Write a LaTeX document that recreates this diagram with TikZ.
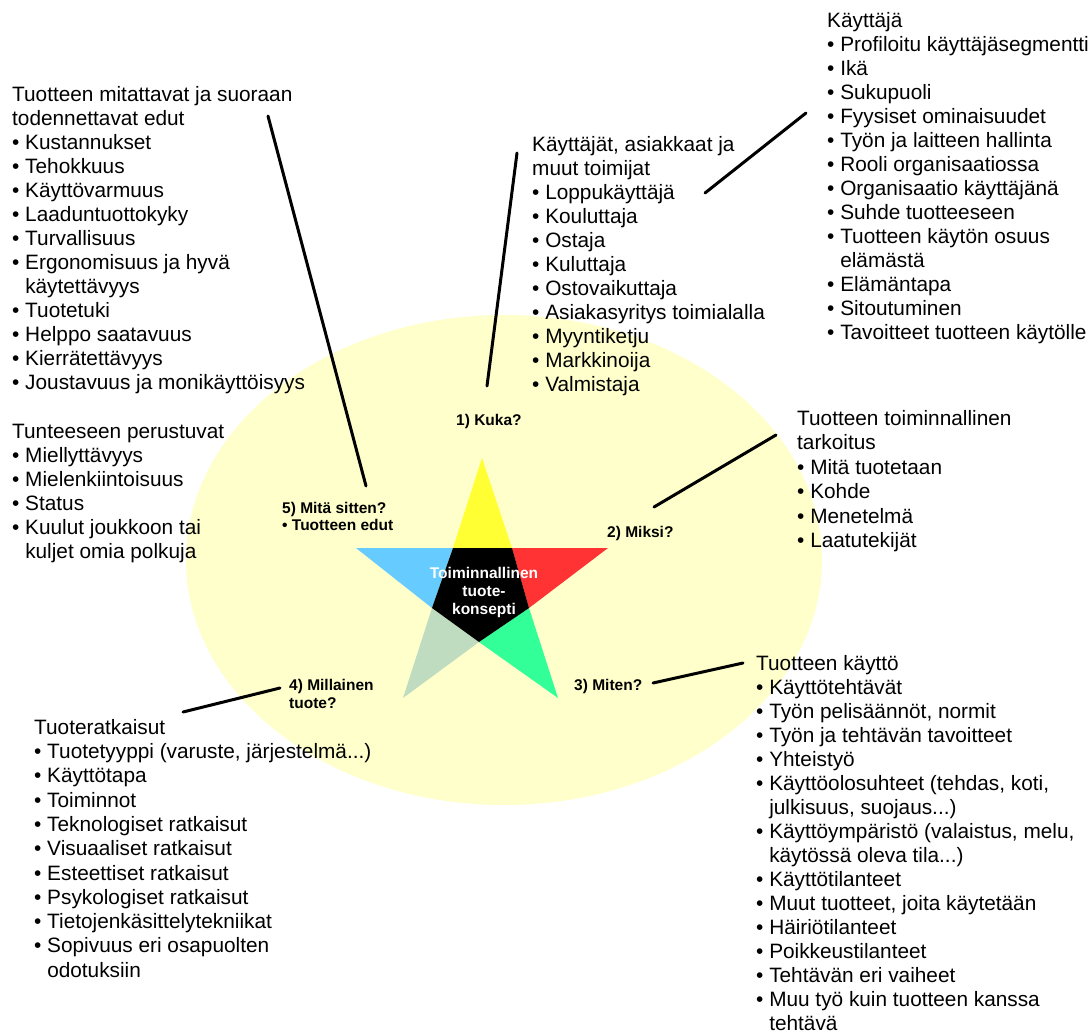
\documentclass[tikz,border=0pt]{standalone}
\usepackage{fontspec}
\setmainfont{Liberation Sans}
\usetikzlibrary{positioning,calc}

\definecolor{ellyellow}{HTML}{FFFFCC}
\definecolor{staryellow}{HTML}{FFFF33}
\definecolor{starred}{HTML}{FF3333}
\definecolor{stargreen}{HTML}{33FF99}
\definecolor{stargrey}{HTML}{C0DCC0}
\definecolor{starblue}{HTML}{66CCFF}

\newcommand{\bul}{\textbullet\ }
\newcommand{\hang}{\hphantom{\textbullet\ }}

\tikzset{
  txt/.style={anchor=north west, inner sep=0pt, align=left, font=\fontsize{20.8}{24}\selectfont},
  lbl/.style={anchor=north west, inner sep=0pt, align=left, font=\fontsize{15.5}{17}\selectfont\bfseries},
  lead/.style={line width=3pt, line cap=round},
}

\begin{document}
\begin{tikzpicture}[x=1pt,y=-1pt]
    \useasboundingbox (0,0) rectangle (1091,1033);
    % background ellipse
    \fill[ellyellow] (504,560) ellipse [x radius=318pt, y radius=245pt];

    % star
    \coordinate (st) at (482,458);
    \coordinate (sr) at (608,548);
    \coordinate (sbr) at (558,698);
    \coordinate (sbl) at (403,698);
    \coordinate (sl) at (356,548);
    \coordinate (itl) at (453,548);
    \coordinate (itr) at (512,548);
    \coordinate (ir) at (529,608);
    \coordinate (ib) at (479,642);
    \coordinate (il) at (432,608);
    \fill[staryellow] (st) -- (itr) -- (itl) -- cycle;
    \fill[starred] (itr) -- (sr) -- (ir) -- cycle;
    \fill[stargreen] (ir) -- (sbr) -- (ib) -- cycle;
    \fill[stargrey] (ib) -- (sbl) -- (il) -- cycle;
    \fill[starblue] (il) -- (sl) -- (itl) -- cycle;
    \fill[black] (itl) -- (itr) -- (ir) -- (ib) -- (il) -- cycle;
    \node[lbl, anchor=north, align=center, text=white, font=\fontsize{15.5}{18}\selectfont\bfseries] (konsepti) at (484,567) {Toiminnallinen\\tuote-\\konsepti};

    % questions
    \node[lbl] (kuka) at (456,414) {1) Kuka?};
    \node[lbl] (miksi) at (607,526) {2) Miksi?};
    \node[lbl] (miten) at (574,679) {3) Miten?};
    \node[lbl, font=\fontsize{15.5}{18}\selectfont\bfseries] (millainen) at (289,679) {4) Millainen\\tuote?};
    \node[lbl] (mita) at (282,502) {5) Mitä sitten?\\\bul Tuotteen edut};

    % text blocks
    \node[txt] (edut) at (12,86) {Tuotteen mitattavat ja suoraan\\todennettavat edut\\\bul Kustannukset\\\bul Tehokkuus\\\bul Käyttövarmuus\\\bul Laaduntuottokyky\\\bul Turvallisuus\\\bul Ergonomisuus ja hyvä\\\hang käytettävyys\\\bul Tuotetuki\\\bul Helppo saatavuus\\\bul Kierrätettävyys\\\bul Joustavuus ja monikäyttöisyys};
    \node[txt] (tunne) at (12,424) {Tunteeseen perustuvat\\\bul Miellyttävyys\\\bul Mielenkiintoisuus\\\bul Status\\\bul Kuulut joukkoon tai\\\hang kuljet omia polkuja};
    \node[txt] (kayttaja) at (827,12) {Käyttäjä\\\bul Profiloitu käyttäjäsegmentti\\\bul Ikä\\\bul Sukupuoli\\\bul Fyysiset ominaisuudet\\\bul Työn ja laitteen hallinta\\\bul Rooli organisaatiossa\\\bul Organisaatio käyttäjänä\\\bul Suhde tuotteeseen\\\bul Tuotteen käytön osuus\\\hang elämästä\\\bul Elämäntapa\\\bul Sitoutuminen\\\bul Tavoitteet tuotteen käytölle};
    \node[txt] (toimijat) at (532,136) {Käyttäjät, asiakkaat ja\\muut toimijat\\\bul Loppukäyttäjä\\\bul Kouluttaja\\\bul Ostaja\\\bul Kuluttaja\\\bul Ostovaikuttaja\\\bul Asiakasyritys toimialalla\\\bul Myyntiketju\\\bul Markkinoija\\\bul Valmistaja};
    \node[txt, font=\fontsize{20.8}{24.5}\selectfont] (tarkoitus) at (797,410) {Tuotteen toiminnallinen\\tarkoitus\\\bul Mitä tuotetaan\\\bul Kohde\\\bul Menetelmä\\\bul Laatutekijät};
    \node[txt] (kaytto) at (756,655) {Tuotteen käyttö\\\bul Käyttötehtävät\\\bul Työn pelisäännöt, normit\\\bul Työn ja tehtävän tavoitteet\\\bul Yhteistyö\\\bul Käyttöolosuhteet (tehdas, koti,\\\hang julkisuus, suojaus...)\\\bul Käyttöympäristö (valaistus, melu,\\\hang käytössä oleva tila...)\\\bul Käyttötilanteet\\\bul Muut tuotteet, joita käytetään\\\bul Häiriötilanteet\\\bul Poikkeustilanteet\\\bul Tehtävän eri vaiheet\\\bul Muu työ kuin tuotteen kanssa\\\hang tehtävä};
    \node[txt, font=\fontsize{20.8}{24.3}\selectfont] (ratkaisut) at (34,719) {Tuoteratkaisut\\\bul Tuotetyyppi (varuste, järjestelmä...)\\\bul Käyttötapa\\\bul Toiminnot\\\bul Teknologiset ratkaisut\\\bul Visuaaliset ratkaisut\\\bul Esteettiset ratkaisut\\\bul Psykologiset ratkaisut\\\bul Tietojenkäsittelytekniikat\\\bul Sopivuus eri osapuolten\\\hang odotuksiin};

    % leader lines
    \coordinate (kuka-a) at (487,386);
    \coordinate (kuka-b) at (517,153);
    \coordinate (kay-a) at (705,193);
    \coordinate (kay-b) at (806,113);
    \coordinate (miksi-a) at (654,507);
    \coordinate (miksi-b) at (776,435);
    \coordinate (miten-a) at (653,683);
    \coordinate (miten-b) at (743,663);
    \coordinate (mill-a) at (280,688);
    \coordinate (mill-b) at (183,712);
    \coordinate (mita-a) at (366,486);
    \coordinate (mita-b) at (268,116);
    \draw[lead] (kuka-a) -- (kuka-b);
    \draw[lead] (kay-a) -- (kay-b);
    \draw[lead] (miksi-a) -- (miksi-b);
    \draw[lead] (miten-a) -- (miten-b);
    \draw[lead] (mill-a) -- (mill-b);
    \draw[lead] (mita-a) -- (mita-b);
\end{tikzpicture}
\end{document}
